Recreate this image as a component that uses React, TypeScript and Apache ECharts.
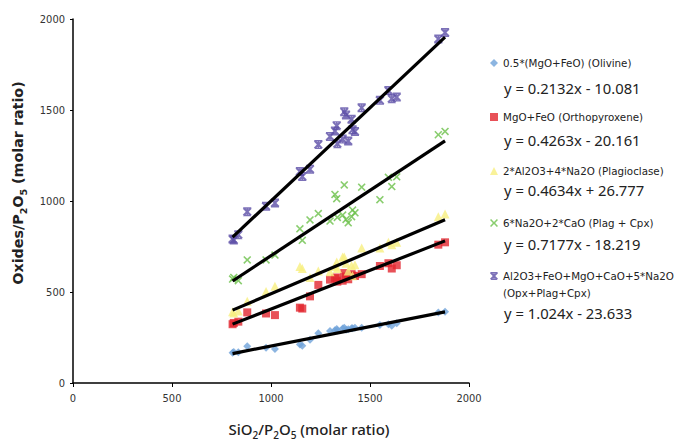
import React, { useEffect, useRef } from "react";
import * as echarts from "echarts";

// Shared sample abscissa (SiO2/P2O5 molar ratio)
const SAMPLE_X = [806, 812, 835, 880, 975, 1020, 1146, 1158, 1197, 1239, 1298, 1323, 1332, 1335, 1362, 1370, 1379, 1390, 1407, 1412, 1424, 1458, 1550, 1593, 1610, 1635, 1845, 1879];

const OLIVINE = [166, 170, 169, 202, 193, 187, 211, 205, 238, 274, 286, 290, 297, 288, 300, 304, 292, 296, 301, 301, 303, 304, 319, 323, 315, 328, 388, 391];
const OPX = [323, 330, 337, 388, 382, 373, 414, 409, 476, 539, 568, 575, 580, 557, 562, 604, 585, 570, 598, 590, 588, 598, 643, 658, 629, 647, 760, 773];
const PLAG = [391, 385, 395, 449, 503, 531, 640, 629, 580, 616, 611, 640, 665, 629, 692, 692, 658, 615, 645, 589, 650, 742, 742, 773, 760, 773, 914, 928];
const PLAG_CPX = [571, 580, 562, 676, 676, 703, 847, 784, 896, 931, 890, 1036, 1013, 910, 923, 1088, 899, 880, 914, 950, 935, 1076, 1007, 1130, 1079, 1133, 1364, 1382];
const OPX_PLAG_CPX = [791, 786, 815, 941, 971, 989, 1162, 1135, 1175, 1310, 1355, 1385, 1414, 1315, 1340, 1490, 1473, 1330, 1449, 1391, 1382, 1512, 1553, 1607, 1562, 1571, 1890, 1926];

const SERIES_NAMES = [
  "0.5*(MgO+FeO) (Olivine)",
  "MgO+FeO (Orthopyroxene)",
  "2*Al2O3+4*Na2O (Plagioclase)",
  "6*Na2O+2*CaO (Plag + Cpx)",
  "Al2O3+FeO+MgO+CaO+5*Na2O (Opx+Plag+Cpx)",
];
const SLOPES = [0.2132, 0.4263, 0.4634, 0.7177, 1.024];
const INTERCEPTS = [-10.081, -20.161, 26.777, -18.219, -23.633];
const EQUATIONS = [
  "y = 0.2132x - 10.081",
  "y = 0.4263x - 20.161",
  "y = 0.4634x + 26.777",
  "y = 0.7177x - 18.219",
  "y = 1.024x - 23.633",
];
const X_TICKS = [0, 500, 1000, 1500, 2000];
const Y_TICKS = [0, 500, 1000, 1500, 2000];

const COLORS = ["#6fa3d9", "#e2262e", "#f7ef80", "#6cc04a", "#5b4ea6"];
const X_PATH = "path://M0,1.4L1.4,0L5,3.6L8.6,0L10,1.4L6.4,5L10,8.6L8.6,10L5,6.4L1.4,10L0,8.6L3.6,5Z";
const STAR_PATH =
  "path://M0,1.6L1.6,0L5,3.4L8.4,0L10,1.6L6.6,5L10,8.4L8.4,10L5,6.6L1.6,10L0,8.4L3.4,5Z" +
  "M0.5,0L9.5,0L9.5,1.6L0.5,1.6Z" +
  "M0.5,8.4L9.5,8.4L9.5,10L0.5,10Z" +
  "M4.2,0L5.8,0L5.8,10L4.2,10Z";
const SYMBOLS = ["diamond", "rect", "triangle", X_PATH, STAR_PATH];
const SIZES = [8, 8, 9, 8, 9];

const FONT = "'DejaVu Sans', Verdana, sans-serif";
const NARROW = "'DejaVu Sans Condensed', 'DejaVu Sans', sans-serif";
const EQ_FONT = "'Noto Sans', 'Open Sans', sans-serif";
const AXIS_FONT = "'Noto Sans', 'Open Sans', sans-serif";

const LEGEND_CENTERS = [63, 117, 171, 223, 276];
const EQ_CENTERS = [88, 140, 190, 244, 313];

export default function App() {
  const ref = useRef<HTMLDivElement>(null);
  useEffect(() => {
    if (!ref.current) return;
    const chart = echarts.init(ref.current, null, { renderer: "svg" });
    const ys = [OLIVINE, OPX, PLAG, PLAG_CPX, OPX_PLAG_CPX];
    const xMin = Math.min(...SAMPLE_X);
    const xMax = Math.max(...SAMPLE_X);

    const scatter = ys.map((arr, i) => ({
      type: "scatter",
      name: SERIES_NAMES[i],
      data: SAMPLE_X.map((x, k) => [x, arr[k]]),
      symbol: SYMBOLS[i],
      symbolSize: SIZES[i],
      itemStyle: { color: COLORS[i] },
      z: 2 + i,
    }));
    const trends = SLOPES.map((m, i) => ({
      type: "line",
      name: "trend" + i,
      data: [
        [xMin, m * xMin + INTERCEPTS[i]],
        [xMax, m * xMax + INTERCEPTS[i]],
      ],
      symbol: "none",
      lineStyle: { color: "#000", width: 3.2 },
      z: 10,
      silent: true,
    }));

    const legends = SERIES_NAMES.map((n, i) => ({
      data: [n],
      left: 490,
      top: LEGEND_CENTERS[i] - 6,
      itemWidth: 8,
      itemHeight: 8,
      padding: 0,
      selectedMode: false,
      formatter: (name: string) => (i === 4 ? "Al2O3+FeO+MgO+CaO+5*Na2O" : name),
      textStyle: { fontSize: 10.3, lineHeight: 12, color: "#222", fontFamily: FONT },
    }));

    const graphics: any[] = EQUATIONS.map((t, i) => ({
      type: "text",
      left: 504,
      top: EQ_CENTERS[i] - 9,
      style: { text: t, fontSize: 14.8, lineHeight: 18, fill: "#222", fontFamily: EQ_FONT },
    }));
    graphics.push({
      type: "text",
      left: 503,
      top: 293 - 6,
      style: { text: "(Opx+Plag+Cpx)", fontSize: 10.3, lineHeight: 12, fill: "#222", fontFamily: FONT },
    });

    const richTitle = {
      a: { fontSize: 14.3, lineHeight: 22, fontWeight: "bold", color: "#222", fontFamily: FONT },
      s: { fontSize: 9.5, lineHeight: 12, fontWeight: "bold", color: "#222", fontFamily: FONT, verticalAlign: "bottom" },
    };
    const richX = {
      a: { fontSize: 15, lineHeight: 22, fontWeight: 500, color: "#222", fontFamily: AXIS_FONT },
      s: { fontSize: 10, lineHeight: 12, fontWeight: 500, color: "#222", fontFamily: AXIS_FONT, verticalAlign: "bottom" },
    };

    chart.setOption({
      animation: false,
      backgroundColor: "#fff",
      grid: { left: 73, right: 209, top: 19, bottom: 56, containLabel: false },
      legend: legends,
      graphic: graphics,
      xAxis: {
        type: "value",
        min: X_TICKS[0],
        max: X_TICKS[X_TICKS.length - 1],
        interval: X_TICKS[1] - X_TICKS[0],
        splitLine: { show: false },
        axisLine: { lineStyle: { color: "#000", width: 1.5 } },
        axisTick: { show: true, length: 4, lineStyle: { color: "#000" } },
        axisLabel: { fontSize: 11, color: "#333", margin: 10, fontFamily: NARROW, formatter: (v: number) => String(v) },
        name: "{a|SiO}{s|2}{a|/P}{s|2}{a|O}{s|5}{a| (molar ratio)}",
        nameLocation: "middle",
        nameGap: 35,
        nameTextStyle: { rich: richX, padding: [0, 0, 0, 76] },
      },
      yAxis: {
        type: "value",
        min: Y_TICKS[0],
        max: Y_TICKS[Y_TICKS.length - 1],
        interval: Y_TICKS[1] - Y_TICKS[0],
        splitLine: { show: false },
        axisLine: { show: true, lineStyle: { color: "#000", width: 1.5 } },
        axisTick: { show: true, length: 3, lineStyle: { color: "#000" } },
        axisLabel: { fontSize: 11, color: "#333", margin: 8, fontFamily: NARROW, formatter: (v: number) => String(v) },
        name: "{a|Oxides/P}{s|2}{a|O}{s|5}{a| (molar ratio)}",
        nameLocation: "middle",
        nameGap: 44,
        nameTextStyle: { rich: richTitle, padding: [0, 0, 0, 36] },
      },
      series: [...scatter, ...trends],
    });
    return () => chart.dispose();
  }, []);
  return (
    <div
      ref={ref}
      style={{ position: "fixed", left: 0, top: 0, width: 678, height: 445 }}
    />
  );
}
